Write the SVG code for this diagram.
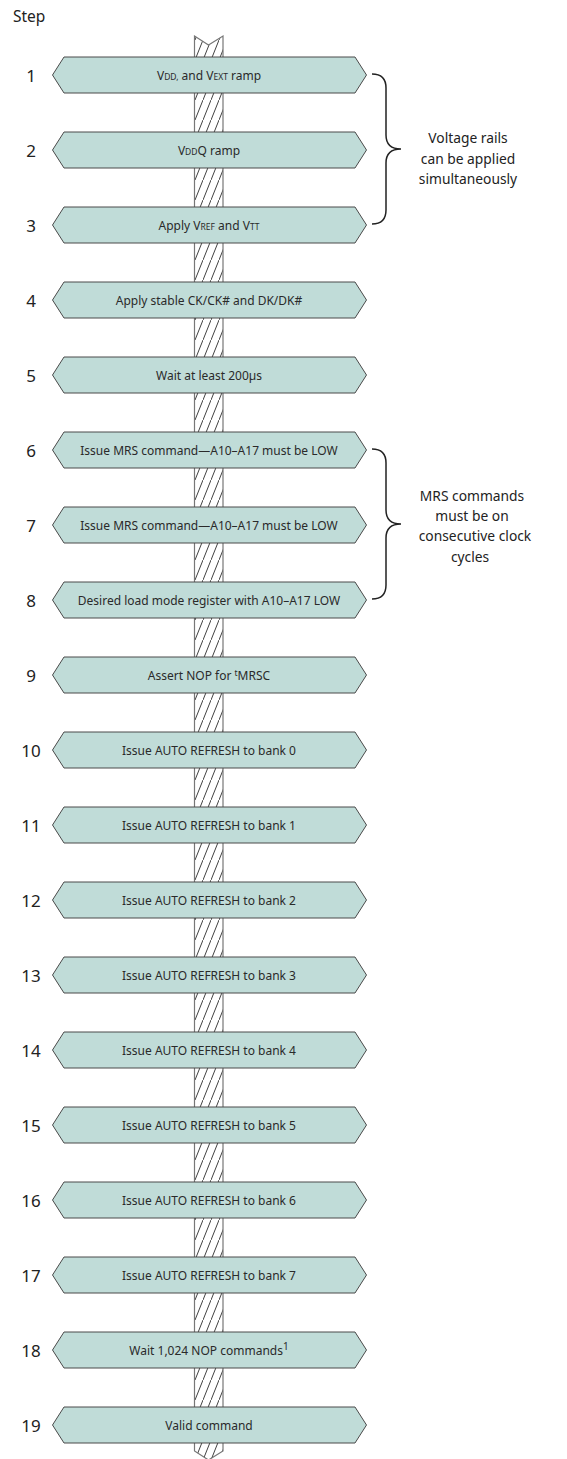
<svg xmlns="http://www.w3.org/2000/svg" width="567" height="1459" viewBox="0 0 567 1459">
<style>
.hex{fill:#c0dcd8;stroke:#4a4a4a;stroke-width:1}
.lbl{font-family:"Noto Sans",sans-serif;font-size:12px;fill:#2a2a2a;text-anchor:middle}
.sc{font-size:8.5px}
.num{font-family:"Noto Sans",sans-serif;font-size:17px;fill:#222;text-anchor:middle}
.note{font-family:"Noto Sans",sans-serif;font-size:13.8px;fill:#222;text-anchor:middle}
.brace{fill:none;stroke:#222;stroke-width:1.5}
</style>
<defs>
<pattern id="hatch" patternUnits="userSpaceOnUse" x="195" y="0" width="8" height="20">
<path d="M-1,22.5 L9,-2.5" stroke="#2a2a2a" stroke-width="0.9" fill="none"/>
</pattern>
</defs>
<rect width="567" height="1459" fill="#fff"/>
<text x="13" y="22" font-family="Noto Sans, sans-serif" font-size="15.5" fill="#222">Step</text>
<g id="pillar">
<path d="M194.5,36 L208.5,45 L223,36 L223,1451 L208.5,1460 L194.5,1451 Z" fill="url(#hatch)" stroke="#777" stroke-width="1.2"/>
</g>
<g id="connectors">
<path class="brace" d="M372,74 Q386,74 386,88 L386,135 Q386,149 401,149 Q386,149 386,163 L386,210 Q386,224 372,224"/>
<path class="brace" d="M372,449 Q386,449 386,463 L386,510 Q386,524 401,524 Q386,524 386,538 L386,585 Q386,599 372,599"/>
</g>
<g id="note1">
<text class="note" x="468" y="143">Voltage rails</text>
<text class="note" x="468" y="164">can be applied</text>
<text class="note" x="468" y="184">simultaneously</text>
</g>
<g id="note2">
<text class="note" x="472" y="501">MRS commands</text>
<text class="note" x="472" y="521">must be on</text>
<text class="note" x="475" y="541">consecutive clock</text>
<text class="note" x="470" y="562">cycles</text>
</g>
<g id="step1"><text class="num" x="31" y="81.5">1</text><polygon class="hex" points="52.5,75 64,57 355,57 366.5,75 355,93 64,93"/><text class="lbl" x="209" y="79.5">V<tspan class="sc">DD,</tspan> and V<tspan class="sc">EXT</tspan> ramp</text></g>
<g id="step2"><text class="num" x="31" y="156.5">2</text><polygon class="hex" points="52.5,150 64,132 355,132 366.5,150 355,168 64,168"/><text class="lbl" x="209" y="154.5">V<tspan class="sc">DD</tspan>Q ramp</text></g>
<g id="step3"><text class="num" x="31" y="231.5">3</text><polygon class="hex" points="52.5,225 64,207 355,207 366.5,225 355,243 64,243"/><text class="lbl" x="209" y="229.5">Apply V<tspan class="sc">REF</tspan> and V<tspan class="sc">TT</tspan></text></g>
<g id="step4"><text class="num" x="31" y="306.5">4</text><polygon class="hex" points="52.5,300 64,282 355,282 366.5,300 355,318 64,318"/><text class="lbl" x="209" y="304.5">Apply stable CK/CK# and DK/DK#</text></g>
<g id="step5"><text class="num" x="31" y="381.5">5</text><polygon class="hex" points="52.5,375 64,357 355,357 366.5,375 355,393 64,393"/><text class="lbl" x="209" y="379.5">Wait at least 200µs</text></g>
<g id="step6"><text class="num" x="31" y="456.5">6</text><polygon class="hex" points="52.5,450 64,432 355,432 366.5,450 355,468 64,468"/><text class="lbl" x="209" y="454.5">Issue MRS command—A10–A17 must be LOW</text></g>
<g id="step7"><text class="num" x="31" y="531.5">7</text><polygon class="hex" points="52.5,525 64,507 355,507 366.5,525 355,543 64,543"/><text class="lbl" x="209" y="529.5">Issue MRS command—A10–A17 must be LOW</text></g>
<g id="step8"><text class="num" x="31" y="606.5">8</text><polygon class="hex" points="52.5,600 64,582 355,582 366.5,600 355,618 64,618"/><text class="lbl" x="209" y="604.5">Desired load mode register with A10–A17 LOW</text></g>
<g id="step9"><text class="num" x="31" y="681.5">9</text><polygon class="hex" points="52.5,675 64,657 355,657 366.5,675 355,693 64,693"/><text class="lbl" x="209" y="679.5">Assert NOP for <tspan class="sc" dy="-4">t</tspan><tspan dy="4">MRSC</tspan></text></g>
<g id="step10"><text class="num" x="31" y="756.5">10</text><polygon class="hex" points="52.5,750 64,732 355,732 366.5,750 355,768 64,768"/><text class="lbl" x="209" y="754.5">Issue AUTO REFRESH to bank 0</text></g>
<g id="step11"><text class="num" x="31" y="831.5">11</text><polygon class="hex" points="52.5,825 64,807 355,807 366.5,825 355,843 64,843"/><text class="lbl" x="209" y="829.5">Issue AUTO REFRESH to bank 1</text></g>
<g id="step12"><text class="num" x="31" y="906.5">12</text><polygon class="hex" points="52.5,900 64,882 355,882 366.5,900 355,918 64,918"/><text class="lbl" x="209" y="904.5">Issue AUTO REFRESH to bank 2</text></g>
<g id="step13"><text class="num" x="31" y="981.5">13</text><polygon class="hex" points="52.5,975 64,957 355,957 366.5,975 355,993 64,993"/><text class="lbl" x="209" y="979.5">Issue AUTO REFRESH to bank 3</text></g>
<g id="step14"><text class="num" x="31" y="1056.5">14</text><polygon class="hex" points="52.5,1050 64,1032 355,1032 366.5,1050 355,1068 64,1068"/><text class="lbl" x="209" y="1054.5">Issue AUTO REFRESH to bank 4</text></g>
<g id="step15"><text class="num" x="31" y="1131.5">15</text><polygon class="hex" points="52.5,1125 64,1107 355,1107 366.5,1125 355,1143 64,1143"/><text class="lbl" x="209" y="1129.5">Issue AUTO REFRESH to bank 5</text></g>
<g id="step16"><text class="num" x="31" y="1206.5">16</text><polygon class="hex" points="52.5,1200 64,1182 355,1182 366.5,1200 355,1218 64,1218"/><text class="lbl" x="209" y="1204.5">Issue AUTO REFRESH to bank 6</text></g>
<g id="step17"><text class="num" x="31" y="1281.5">17</text><polygon class="hex" points="52.5,1275 64,1257 355,1257 366.5,1275 355,1293 64,1293"/><text class="lbl" x="209" y="1279.5">Issue AUTO REFRESH to bank 7</text></g>
<g id="step18"><text class="num" x="31" y="1356.5">18</text><polygon class="hex" points="52.5,1350 64,1332 355,1332 366.5,1350 355,1368 64,1368"/><text class="lbl" x="209" y="1354.5">Wait 1,024 NOP commands<tspan font-size="10" dy="-5">1</tspan></text></g>
<g id="step19"><text class="num" x="31" y="1431.5">19</text><polygon class="hex" points="52.5,1425 64,1407 355,1407 366.5,1425 355,1443 64,1443"/><text class="lbl" x="209" y="1429.5">Valid command</text></g>
</svg>
